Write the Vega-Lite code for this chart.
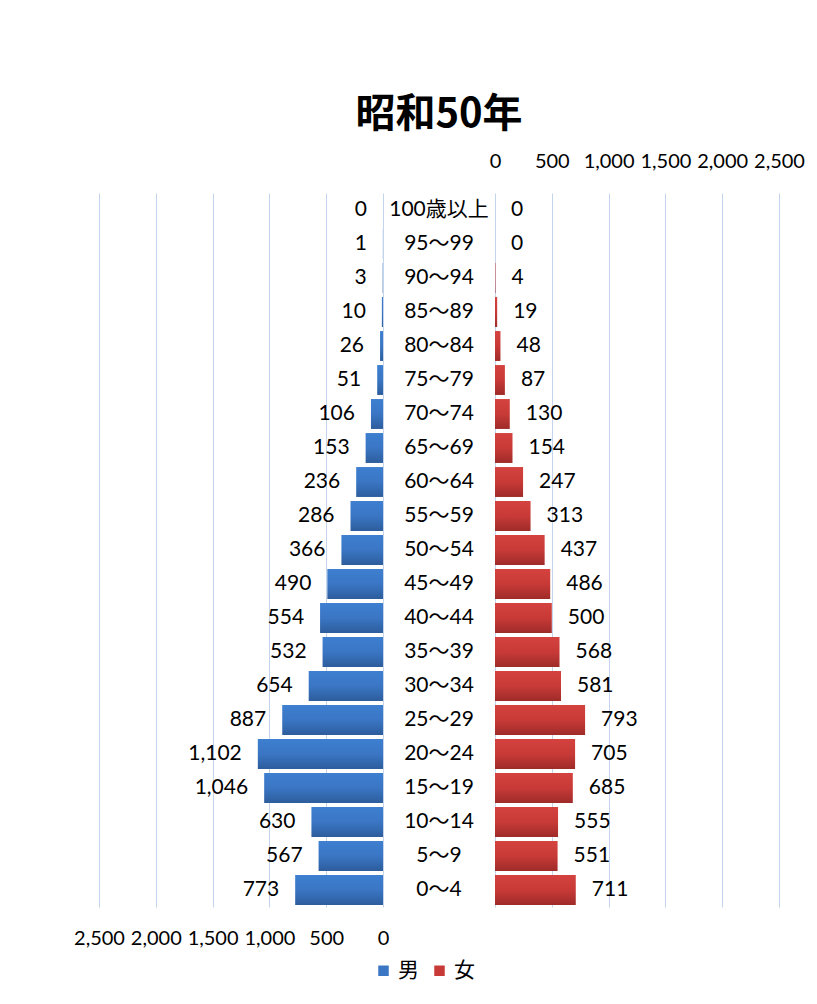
{
  "$schema": "https://vega.github.io/schema/vega-lite/v6.json",
  "padding": {"left": 73, "top": 95, "right": 5, "bottom": 5},
  "title": {"text": "昭和50年", "fontSize": 40, "fontWeight": "bold", "font": "Noto Sans CJK JP", "anchor": "middle", "offset": 16, "color": "#000000"},
  "data": {"values": [
    {"年齢": "100歳以上", "男": 0, "女": 0},
    {"年齢": "95～99", "男": 1, "女": 0},
    {"年齢": "90～94", "男": 3, "女": 4},
    {"年齢": "85～89", "男": 10, "女": 19},
    {"年齢": "80～84", "男": 26, "女": 48},
    {"年齢": "75～79", "男": 51, "女": 87},
    {"年齢": "70～74", "男": 106, "女": 130},
    {"年齢": "65～69", "男": 153, "女": 154},
    {"年齢": "60～64", "男": 236, "女": 247},
    {"年齢": "55～59", "男": 286, "女": 313},
    {"年齢": "50～54", "男": 366, "女": 437},
    {"年齢": "45～49", "男": 490, "女": 486},
    {"年齢": "40～44", "男": 554, "女": 500},
    {"年齢": "35～39", "男": 532, "女": 568},
    {"年齢": "30～34", "男": 654, "女": 581},
    {"年齢": "25～29", "男": 887, "女": 793},
    {"年齢": "20～24", "男": 1102, "女": 705},
    {"年齢": "15～19", "男": 1046, "女": 685},
    {"年齢": "10～14", "男": 630, "女": 555},
    {"年齢": "5～9", "男": 567, "女": 551},
    {"年齢": "0～4", "男": 773, "女": 711}
  ]},
  "spacing": 0,
  "hconcat": [
    {
      "width": 284, "height": 714,
      "layer": [
        {
          "mark": {"type": "bar", "color": {"gradient": "linear", "x1": 0, "y1": 0, "x2": 0, "y2": 1, "stops": [{"offset": 0, "color": "#3e7fd0"}, {"offset": 0.5, "color": "#3a76c4"}, {"offset": 1, "color": "#2d5d9c"}]}},
          "encoding": {
            "y": {"field": "年齢", "type": "nominal", "sort": null, "axis": null, "scale": {"paddingInner": 0.12, "paddingOuter": 0.06}},
            "x": {"field": "男", "type": "quantitative", "scale": {"domain": [0, 2500], "reverse": true, "nice": false}, "axis": {"orient": "bottom", "title": null, "values": [0, 500, 1000, 1500, 2000, 2500], "format": ",.0f", "labelOverlap": false, "labelBound": false, "labelFlush": false, "grid": true, "gridColor": "#c4d4ec", "domain": false, "ticks": false, "labelFontSize": 20, "labelFont": "Lato", "labelColor": "#000000", "labelPadding": 21}}
          }
        },
        {
          "mark": {"type": "text", "align": "right", "dx": -16, "fontSize": 21, "font": "Lato", "color": "#000000"},
          "encoding": {
            "y": {"field": "年齢", "type": "nominal", "sort": null},
            "x": {"field": "男", "type": "quantitative"},
            "text": {"field": "男", "type": "quantitative", "format": ","}
          }
        },
        {
          "mark": {"type": "square", "opacity": 0},
          "encoding": {
            "y": {"field": "年齢", "type": "nominal", "sort": null},
            "x": {"field": "男", "type": "quantitative"},
            "color": {"datum": "男", "type": "nominal", "scale": {"domain": ["男", "女"], "range": ["#3a76c4", "#c83a37"]}, "legend": {"orient": "none", "legendX": 274, "legendY": 767, "direction": "horizontal", "title": null, "symbolType": "square", "symbolSize": 110, "symbolOpacity": 1, "labelFontSize": 21, "labelFont": "Noto Sans CJK JP", "labelColor": "#000000", "labelOffset": 4, "columnPadding": 10}}
          }
        }
      ]
    },
    {
      "width": 100, "height": 714,
      "mark": {"type": "text", "fontSize": 21, "font": "Lato, Noto Sans CJK JP", "color": "#000000"},
      "encoding": {
        "y": {"field": "年齢", "type": "nominal", "sort": null, "axis": null, "scale": {"paddingInner": 0.12, "paddingOuter": 0.06}},
        "text": {"field": "年齢", "type": "nominal"}
      }
    },
    {
      "width": 284, "height": 714,
      "layer": [
        {
          "mark": {"type": "bar", "color": {"gradient": "linear", "x1": 0, "y1": 0, "x2": 0, "y2": 1, "stops": [{"offset": 0, "color": "#d4423e"}, {"offset": 0.5, "color": "#c83a37"}, {"offset": 1, "color": "#9e2b29"}]}},
          "encoding": {
            "y": {"field": "年齢", "type": "nominal", "sort": null, "axis": null, "scale": {"paddingInner": 0.12, "paddingOuter": 0.06}},
            "x": {"field": "女", "type": "quantitative", "scale": {"domain": [0, 2500], "nice": false}, "axis": {"orient": "top", "title": null, "values": [0, 500, 1000, 1500, 2000, 2500], "format": ",.0f", "labelOverlap": false, "labelBound": false, "labelFlush": false, "grid": true, "gridColor": "#c4d4ec", "domain": false, "ticks": false, "labelFontSize": 20, "labelFont": "Lato", "labelColor": "#000000", "labelPadding": 22}}
          }
        },
        {
          "mark": {"type": "text", "align": "left", "dx": 16, "fontSize": 21, "font": "Lato", "color": "#000000"},
          "encoding": {
            "y": {"field": "年齢", "type": "nominal", "sort": null},
            "x": {"field": "女", "type": "quantitative"},
            "text": {"field": "女", "type": "quantitative", "format": ","}
          }
        }
      ]
    }
  ],
  "config": {"view": {"stroke": null}}
}
